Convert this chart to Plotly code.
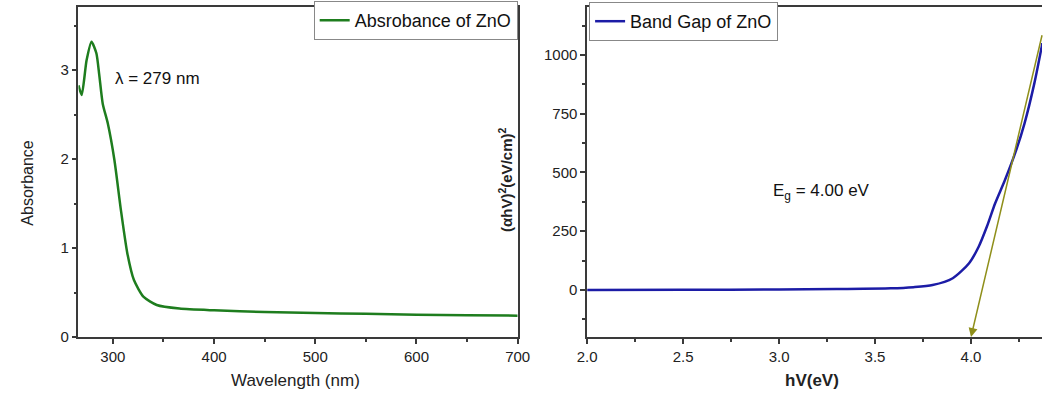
import plotly.graph_objects as go

# ---- Data: absorbance spectrum of ZnO ----
wavelength = [266, 269.2, 274, 278.9, 283.7, 286.5, 290, 295, 301.5, 307.9, 314.3, 320.8,
              330.4, 343.3, 365.8, 400, 450, 500, 550, 600, 650, 700]
absorbance = [2.83, 2.72, 3.11, 3.32, 3.19, 2.95, 2.62, 2.40, 1.99, 1.43, 0.94, 0.64,
              0.45, 0.36, 0.32, 0.30, 0.28, 0.27, 0.26, 0.25, 0.245, 0.24]

# ---- Data: Tauc plot (band gap) ----
energy = [2.0, 2.5, 3.0, 3.3, 3.582, 3.7, 3.8, 3.905, 3.99, 4.04, 4.083, 4.126,
          4.177, 4.236, 4.279, 4.33, 4.372]
tauc = [0, 1, 2, 4, 7, 12, 21, 50, 114, 184, 270, 369, 468, 596, 709, 879, 1050]

# tangent extrapolation (start -> end point)
tangent_x = [4.372, 4.0]
tangent_y = [1090, -200]

lambda_max_text = "λ = 279 nm"
eg_text = "E<sub>g</sub> = 4.00 eV"

W, H = 1055, 394
L1, R1, L2, R2 = 70, 519, 590, 1055
TOP, BOT = 7, 337

FONT = "Liberation Sans, Arial, sans-serif"
AX = "#3a3a3a"

fig = go.Figure()
fig.add_trace(go.Scatter(x=wavelength, y=absorbance, mode="lines", name="Absrobance of ZnO",
                         line=dict(color="#1e7d1e", width=2.5, shape="spline", smoothing=0.6),
                         xaxis="x", yaxis="y", legend="legend"))
fig.add_trace(go.Scatter(x=energy, y=tauc, mode="lines", name="Band Gap of ZnO",
                         line=dict(color="#1c1ca6", width=2.5, shape="spline", smoothing=0.7),
                         xaxis="x2", yaxis="y2", legend="legend2"))

common = dict(showline=True, linecolor=AX, linewidth=1.5, ticks="outside", tickcolor=AX,
              ticklen=5, tickwidth=1.5, showgrid=False, zeroline=False,
              tickfont=dict(family=FONT, size=15, color="#222"))

ph = BOT - TOP
def py(pix):
    return (BOT - pix) / ph

fig.update_layout(
    width=W, height=H,
    margin=dict(l=0, r=0, t=TOP, b=H - BOT),
    paper_bgcolor="white", plot_bgcolor="white",
    font=dict(family=FONT, color="#222"),
    xaxis=dict(domain=[L1 / W, R1 / W], range=[266, 700], dtick=100, tick0=0, mirror=True,
               minor=dict(dtick=50, ticks="outside", ticklen=3, tickcolor=AX), **common),
    yaxis=dict(domain=[0, 1], range=[0, 3.71], dtick=1, mirror=True, anchor="x",
               minor=dict(dtick=0.5, ticks="outside", ticklen=3, tickcolor=AX), **common),
    xaxis2=dict(domain=[L2 / W, R2 / W], range=[2.0, 4.37], dtick=0.5, tick0=0, mirror=True,
                tickformat=".1f", anchor="y2",
                minor=dict(dtick=0.25, ticks="outside", ticklen=3, tickcolor=AX), **common),
    yaxis2=dict(domain=[0, 1], range=[-200, 1204], dtick=250, tick0=0, anchor="x2",
                minor=dict(dtick=125, ticks="outside", ticklen=3, tickcolor=AX), **common),
    legend=dict(x=R1 / W, y=py(1), xanchor="right", yanchor="top",
                bgcolor="white", bordercolor="#888", borderwidth=1,
                font=dict(family=FONT, size=18, color="#111"),
                tracegroupgap=0, itemwidth=30),
    legend2=dict(x=(L2 + 2) / W, y=py(2), xanchor="left", yanchor="top",
                 bgcolor="white", bordercolor="#888", borderwidth=1,
                 font=dict(family=FONT, size=18, color="#111"),
                 tracegroupgap=0, itemwidth=30),
    showlegend=True,
)

annots = [
    dict(text=lambda_max_text, x=300, y=2.91, xref="x", yref="y", xanchor="left",
         yanchor="middle", showarrow=False, font=dict(family=FONT, size=17, color="#111")),
    dict(text=eg_text, x=2.96, y=417, xref="x2", yref="y2", xanchor="left",
         yanchor="middle", showarrow=False, font=dict(family=FONT, size=17, color="#111")),
    dict(text="Absorbance", x=17 / W, y=py(183), xref="paper", yref="paper", textangle=-90,
         xanchor="center", yanchor="middle",
         showarrow=False, font=dict(family=FONT, size=16, color="#222")),
    dict(text="<b>(αhV)<sup>2</sup>(eV/cm)<sup>2</sup></b>", x=507 / W, y=py(180),
         xref="paper", yref="paper", textangle=-90, showarrow=False,
         xanchor="center", yanchor="middle",
         font=dict(family=FONT, size=15, color="#222")),
    dict(text="Wavelength (nm)", x=292 / W, y=py(380), xref="paper", yref="paper",
         xanchor="center", yanchor="middle",
         showarrow=False, font=dict(family=FONT, size=17, color="#222")),
    dict(text="<b>hV(eV)</b>", x=820 / W, y=py(380), xref="paper", yref="paper",
         xanchor="center", yanchor="middle",
         showarrow=False, font=dict(family=FONT, size=17, color="#222")),
    dict(x=tangent_x[1], y=tangent_y[1], ax=tangent_x[0], ay=tangent_y[0],
         xref="x2", yref="y2", axref="x2", ayref="y2", text="", showarrow=True,
         arrowhead=2, arrowsize=1.2, arrowwidth=1.5, arrowcolor="#8f8f1a"),
]
fig.update_layout(annotations=annots)

fig.write_html("out.html")
